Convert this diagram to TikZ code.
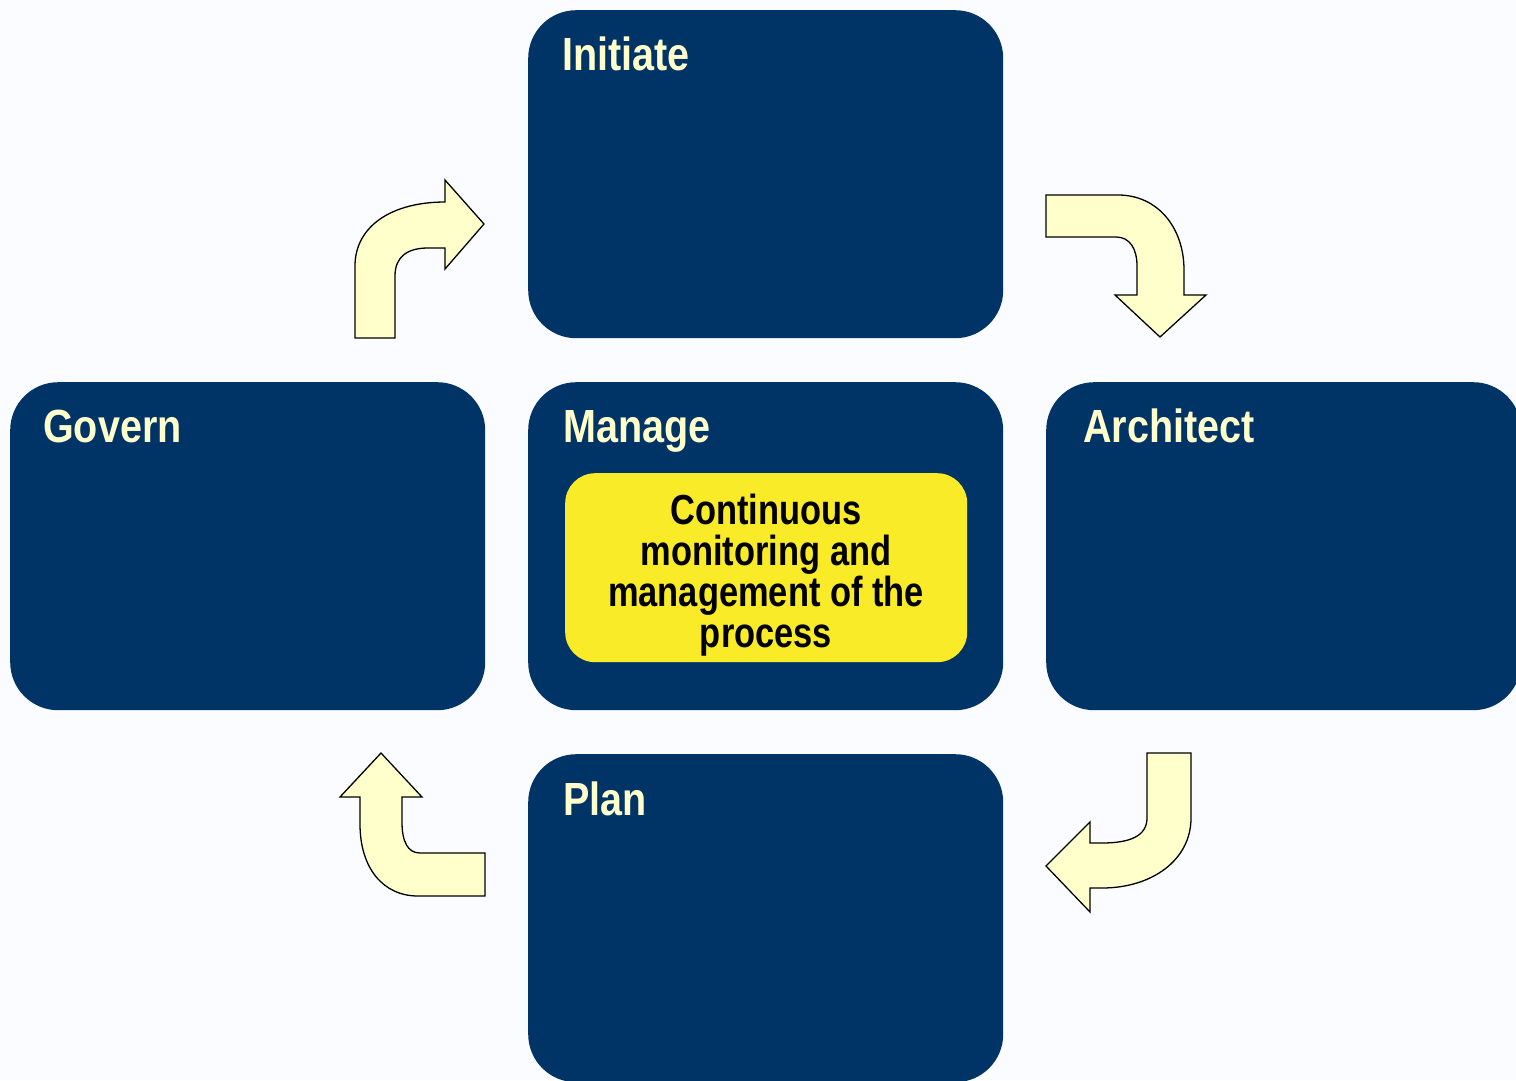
\documentclass[tikz,border=0pt]{standalone}
\usepackage{fontspec}
\setmainfont[FakeStretch=0.82]{Liberation Sans}
\newfontfamily\titlefont[FakeStretch=0.85]{Liberation Sans}
\definecolor{bgc}{RGB}{250,252,255}
\definecolor{navy}{RGB}{0,51,102}
\definecolor{paleyel}{RGB}{255,255,204}
\definecolor{brightyel}{RGB}{250,235,40}
\begin{document}
\begin{tikzpicture}[x=1pt,y=-1pt,
  bigbox/.style={fill=navy, draw=none, rounded corners=48pt, minimum width=475pt, minimum height=328pt, anchor=north west, inner sep=0pt},
  titletext/.style={text=paleyel, font=\titlefont\bfseries\fontsize{46.5}{55}\selectfont, anchor=base west, inner sep=0pt},
  blockarrow/.style={fill=paleyel, draw=black, line width=1.3pt, line join=miter}
]
\clip (0,0) rectangle (1516,1080);
\fill[bgc] (0,0) rectangle (1516,1080);

% boxes
\node[bigbox] (initiate) at (528,10) {};
\node[bigbox] (govern) at (10,382) {};
\node[bigbox] (manage) at (528,382) {};
\node[bigbox] (architect) at (1046,382) {};
\node[bigbox] (plan) at (528,754) {};

% titles
\node[titletext] (tinitiate) at (562,70) {Initiate};
\node[titletext] (tgovern) at (43,442) {Govern};
\node[titletext] (tmanage) at (563,442) {Manage};
\node[titletext] (tarchitect) at (1083,442) {Architect};
\node[titletext] (tplan) at (563,815) {Plan};

% yellow box
\node[fill=brightyel, rounded corners=30pt, minimum width=402pt, minimum height=189pt, anchor=north west, inner sep=0pt] (monitor) at (565,473) {};
\node[align=center, inner sep=0pt, font=\bfseries\fontsize{42}{41}\selectfont, text=black] (monitortext) at (766,575)
  {Continuous\\monitoring and\\management of the\\process};

% block arrows
\draw[blockarrow] (355,338) -- (355,266) .. controls (355,226) and (392,202) .. (445,202)
  -- (445,180) -- (484,224) -- (445,269) -- (445,248) -- (428,248)
  .. controls (407,248) and (395,257) .. (395,276) -- (395,338) -- cycle;

\draw[blockarrow] (1046,195) -- (1118,195) .. controls (1158,195) and (1184,228) .. (1184,270)
  -- (1184,295) -- (1206,295) -- (1160,337) -- (1115,295) -- (1137,295) -- (1137,266)
  .. controls (1137,249) and (1130,237) .. (1116,237) -- (1046,237) -- cycle;

\draw[blockarrow] (1147,753) -- (1191,753) -- (1191,818) .. controls (1191,860) and (1152,888) .. (1102,888)
  -- (1090,888) -- (1090,912) -- (1046,866) -- (1090,822) -- (1090,843) -- (1102,843)
  .. controls (1130,843) and (1147,836) .. (1147,818) -- cycle;

\draw[blockarrow] (485,853) -- (420,853) .. controls (408,853) and (402,842) .. (402,822)
  -- (402,797) -- (422,797) -- (381,753) -- (340,797) -- (360,797) -- (360,824)
  .. controls (360,868) and (383,896) .. (418,896) -- (485,896) -- cycle;
\end{tikzpicture}
\end{document}
